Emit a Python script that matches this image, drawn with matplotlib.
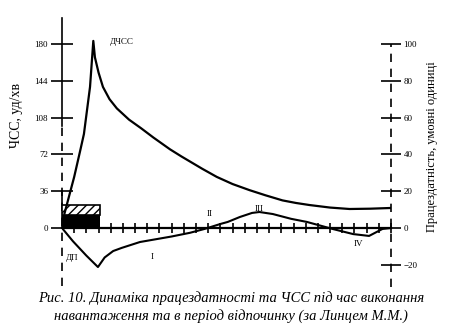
import matplotlib

matplotlib.use('Agg')
import matplotlib.pyplot as plt

plt.rcParams['font.family'] = ['Liberation Serif', 'DejaVu Serif']

# heart rate (left axis, beats/min) vs time
hr_t = [0.2, 1.0, 1.5, 1.8, 2.3, 2.57, 2.7, 3.0, 3.36, 3.9, 4.5, 5.5, 6.5, 7.5,
        8.86, 9.8, 11.5, 12.7, 14.0, 15.4, 16.7, 18.1, 19.2, 20.3, 22.0, 23.6,
        25.3, 27.0]
hr_v = [14, 50, 76, 92, 138, 183, 167, 152, 138, 126, 117, 106, 97.5, 88.5,
        77, 70, 58, 50, 43, 37, 32, 27, 24.5, 22.5, 20, 18.6, 18.9, 19.6]

# working capacity (right axis, conventional units) vs time
wc_t = [0.0, 0.9, 2.0, 2.95, 3.5, 4.2, 4.9, 6.4, 9.0, 10.5, 11.7, 13.0, 13.6,
        14.6, 15.6, 16.2, 17.3, 18.8, 20.1, 22.2, 23.9, 25.2, 26.3, 27.0]
wc_v = [0.0, -7.2, -15.0, -21.2, -16.0, -12.5, -10.8, -7.6, -4.6, -2.6, -0.5,
        2.2, 3.3, 6.0, 8.2, 8.7, 7.6, 5.0, 3.3, -0.5, -3.3, -4.3, -0.5, 0.0]

hr_ticks = [0, 36, 72, 108, 144, 180]
wc_ticks = [-20, 0, 20, 40, 60, 80, 100]
load_end = 3.1
load_solid = 13
load_hatch = 22.5

fig = plt.figure(figsize=(4.59, 3.26), dpi=100)
ax = fig.add_axes([62 / 459, 26 / 326, 329 / 459, 282 / 326])
ax2 = ax.twinx()

ylo, yhi = -70.4, 205.4
ax.set_xlim(0, 27)
ax.set_ylim(ylo, yhi)
ax2.set_ylim(ylo / 1.8, yhi / 1.8)
for a in (ax, ax2):
    for s in a.spines.values():
        s.set_visible(False)
    a.patch.set_visible(False)

# axis lines drawn by hand (left partly dashed, right dashed)
ax.plot([0, 0], [100, yhi], color='black', lw=1.2, clip_on=False)
ax.plot([0, 0], [-57, 100], color='black', lw=1.2, ls=(0, (5, 4)), clip_on=False)
ax.plot([0, 0], [0, 36], color='black', lw=1.2, clip_on=False)
ax2.plot([27, 27], [-32, 100], color='black', lw=1.2, ls=(0, (5, 4)), clip_on=False)
ax.plot([0, 27], [0, 0], color='black', lw=1.6, clip_on=False)

# load period block
ax.bar(0, load_solid, width=load_end, align='edge', color='black', zorder=3)
ax.bar(0, load_hatch - load_solid, bottom=load_solid, width=load_end,
       align='edge', facecolor='white', edgecolor='black', hatch='////',
       lw=1.2, zorder=3)

ax.plot(hr_t, hr_v, color='black', lw=1.6, zorder=4)
ax2.plot(wc_t, wc_v, color='black', lw=1.5, zorder=4)

ax.set_yticks(hr_ticks)
ax.tick_params(axis='y', direction='inout', length=16, width=1.2, labelsize=6.5,
               pad=2)
ax.set_xticks(range(1, 28))
ax.set_xticklabels([])
ax.tick_params(axis='x', direction='inout', length=7, width=1.2, pad=0)
ax.spines['bottom'].set_position(('data', 0))

ax2.set_yticks(wc_ticks)
ax2.tick_params(axis='y', direction='inout', length=14, width=1.2, labelsize=6.5,
                pad=2)

ax.set_ylabel('ЧСС, уд/хв', fontsize=10)
ax.yaxis.set_label_coords(-0.12, 0.655)
ax2.set_ylabel('Працездатність, умовні одиниці', fontsize=9)
ax2.yaxis.set_label_coords(1.105, 0.543)

txt = dict(fontsize=6.5, ha='center', va='center')
ax.text(4.9, 182, 'ДЧСС', **txt)
ax.text(0.85, -29, 'ДП', **txt)
ax.text(7.4, -28, 'I', **txt)
ax.text(12.1, 14, 'II', **txt)
ax.text(16.2, 18.6, 'III', **txt)
ax.text(24.3, -15.6, 'IV', **txt)

fig.text(0.503, 0.087, 'Рис. 10. Динаміка працездатності та ЧСС під час виконання',
         ha='center', va='center', fontsize=10.5, style='italic')
fig.text(0.503, 0.03, 'навантаження та в період відпочинку (за Линцем М.М.)',
         ha='center', va='center', fontsize=10.5, style='italic')

fig.savefig('out.png', dpi=100)
